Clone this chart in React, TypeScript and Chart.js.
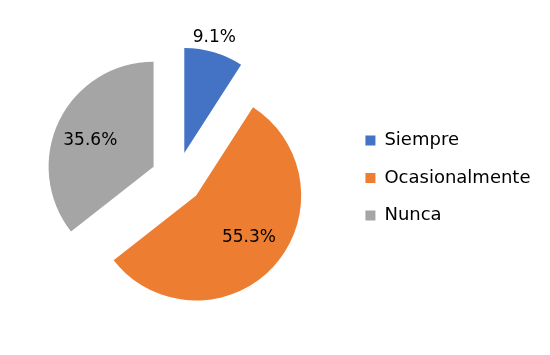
import React, { useEffect, useRef } from "react";
import { Chart, registerables } from "chart.js";

Chart.register(...registerables);

const categories = ["Siempre", "Ocasionalmente", "Nunca"];
const percentages = [9.1, 55.3, 35.6];
const colors = ["#4472C4", "#ED7D31", "#A5A5A5"];
const labelTexts = ["9.1%", "55.3%", "35.6%"];

const FONT = "'DejaVu Sans', sans-serif";
const EXPLODE = 26;
const LABEL_RADIUS = [1.135, 0.645, 0.652];
const LABEL_ANGLE_SHIFT_DEG = [-1.8, -3.5, -3.5];

const explodePlugin = {
  id: "explode",
  afterDatasetUpdate(chart: any, args: any) {
    const meta = chart.getDatasetMeta(args.index);
    const ca = chart.chartArea;
    const cx = (ca.left + ca.right) / 2;
    const cy = (ca.top + ca.bottom) / 2;
    meta.data.forEach((arc: any) => {
      const mid = (arc.startAngle + arc.endAngle) / 2;
      arc.x = cx + Math.cos(mid) * EXPLODE;
      arc.y = cy + Math.sin(mid) * EXPLODE;
    });
  },
};

const labelPlugin = {
  id: "sliceLabels",
  afterDatasetsDraw(chart: any) {
    const ctx = chart.ctx;
    const meta = chart.getDatasetMeta(0);
    ctx.save();
    ctx.font = `17px ${FONT}`;
    ctx.fillStyle = "#000000";
    ctx.textAlign = "center";
    ctx.textBaseline = "middle";
    meta.data.forEach((arc: any, i: number) => {
      const mid = (arc.startAngle + arc.endAngle) / 2 + (LABEL_ANGLE_SHIFT_DEG[i] * Math.PI) / 180;
      const r = arc.outerRadius * LABEL_RADIUS[i];
      ctx.fillText(labelTexts[i], arc.x + Math.cos(mid) * r, arc.y + Math.sin(mid) * r);
    });
    ctx.restore();
  },
};

export default function App() {
  const ref = useRef<HTMLCanvasElement>(null);
  useEffect(() => {
    document.body.style.margin = "0";
    const chart = new Chart(ref.current!, {
      type: "pie",
      data: {
        labels: categories,
        datasets: [
          {
            data: percentages,
            backgroundColor: colors,
            borderWidth: 0,
            offset: 0,
          },
        ],
      },
      options: {
        animation: false,
        responsive: false,
        radius: 105,
        layout: { padding: { left: 8, right: 9.5, top: 1, bottom: 0 } },
        plugins: {
          tooltip: { enabled: false },
          legend: {
            position: "right",
            align: "center",
            labels: {
              boxWidth: 10,
              boxHeight: 10,
              padding: 19.5,
              color: "#000000",
              font: { family: FONT, size: 18 },
            },
          },
        },
      },
      plugins: [explodePlugin, labelPlugin],
    });
    return () => chart.destroy();
  }, []);
  return (
    <div style={{ position: "fixed", left: 0, top: 0, width: 550, height: 355, background: "#fff" }}>
      <canvas ref={ref} width={550} height={355} style={{ width: 550, height: 355 }} />
    </div>
  );
}
